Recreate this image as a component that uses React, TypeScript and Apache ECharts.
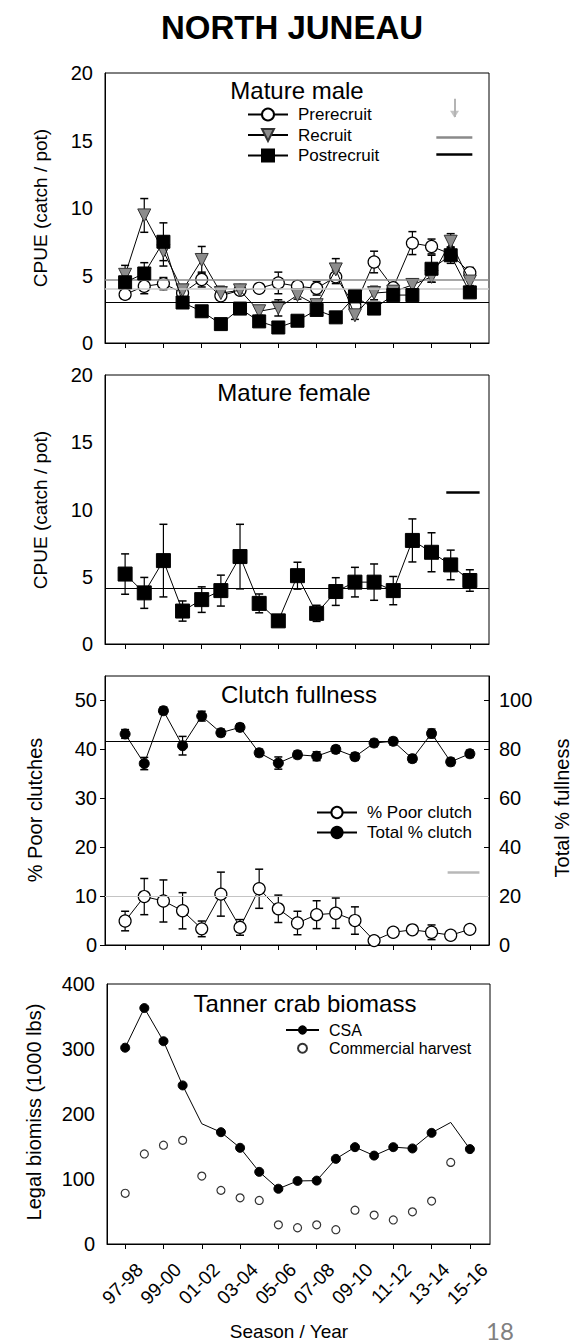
import React, { useEffect, useRef } from "react";
import * as echarts from "echarts";

// Survey seasons (x index 0..18)
const seasons = [
  "97-98", "98-99", "99-00", "00-01", "01-02", "02-03", "03-04", "04-05", "05-06", "06-07",
  "07-08", "08-09", "09-10", "10-11", "11-12", "12-13", "13-14", "14-15", "15-16",
];
const seasonTicks = [0, 2, 4, 6, 8, 10, 12, 14, 16, 18];

// Mature male CPUE (catch / pot) with standard errors
const prerecruit = [3.6, 4.2, 4.4, 3.7, 4.7, 3.5, 3.9, 4.05, 4.45, 4.2, 4.05, 4.9, 2.75, 6.0, 4.1, 7.4, 7.15, 6.6, 5.2];
const prerecruitSE = [0.3, 0.55, 0.45, 0.3, 0.55, 0.3, 0.3, 0.3, 0.8, 0.3, 0.5, 0.5, 0.3, 0.8, 0.3, 0.85, 0.55, 0.5, 0.4];
const recruit = [5.05, 9.45, 6.8, 3.9, 6.15, 3.7, 3.9, 2.35, 2.6, 3.55, 2.8, 5.45, 2.05, 3.7, 3.8, 4.3, 4.9, 7.5, 4.55];
const recruitSE = [0.7, 1.25, 1.1, 0.3, 1.0, 0.5, 0.3, 0.3, 0.6, 0.3, 0.3, 0.8, 0.3, 0.5, 0.3, 0.45, 0.4, 0.6, 0.3];
const postrecruit = [4.5, 5.15, 7.5, 3.0, 2.35, 1.4, 2.55, 1.6, 1.15, 1.65, 2.45, 1.9, 3.45, 2.55, 3.55, 3.55, 5.5, 6.5, 3.75];
const postrecruitSE = [0.9, 0.8, 1.4, 0.3, 0.3, 0.3, 0.3, 0.3, 0.3, 0.3, 0.3, 0.3, 0.4, 0.3, 0.3, 0.3, 1.0, 0.6, 0.3];
// Long-term averages: recruit (gray), prerecruit (light gray), postrecruit (black)
const maleAverages = [4.7, 4.05, 3.0];
const maleKeyLevels = [15.27, 13.96];

// Mature female CPUE with standard errors
const female = [5.2, 3.8, 6.2, 2.45, 3.3, 3.97, 6.5, 3.02, 1.72, 5.08, 2.28, 3.9, 4.6, 4.6, 3.97, 7.7, 6.82, 5.88, 4.72];
const femaleSE = [1.5, 1.15, 2.7, 0.75, 0.95, 1.15, 2.4, 0.7, 0.2, 1.0, 0.6, 1.03, 1.1, 1.35, 1.05, 1.6, 1.45, 1.1, 0.8];
const femaleAverage = 4.15;
const femaleKeyLevel = 11.3;

// Clutch fullness
const poorClutch = [4.9, 9.9, 9.0, 7.0, 3.3, 10.4, 3.6, 11.5, 7.4, 4.5, 6.2, 6.5, 5.0, 0.9, 2.6, 3.1, 2.6, 2.0, 3.2];
const poorClutchSE = [2.0, 3.7, 4.3, 3.7, 1.6, 4.5, 1.6, 4.0, 2.8, 2.4, 2.85, 3.1, 2.8, 0.3, 0.5, 0.6, 1.5, 0.3, 0.8];
const totalClutch = [86.3, 74.2, 95.8, 81.5, 93.6, 86.8, 89.0, 78.6, 74.4, 77.8, 77.2, 80.0, 77.0, 82.6, 83.3, 76.2, 86.5, 74.9, 78.2];
const totalClutchSE = [1.8, 2.5, 1.5, 3.8, 2.0, 1.5, 1.5, 1.5, 2.5, 1.5, 1.8, 1.5, 1.5, 1.5, 1.5, 1.5, 1.8, 1.5, 1.5];
const totalClutchAverage = 83.2;
const poorClutchThreshold = 10;
const poorClutchKeyLevel = 14.8;

// Legal biomass (1000 lbs)
const csa = [302, 363, 312, 244, 185, 172, 148, 111, 85, 97, 97.5, 131, 149, 136, 149, 147, 171, 187, 146];
const csaNoMarker = [4, 17];
const harvest = [78, 138.5, 152, 159.5, 104.5, 82.5, 71, 67, 29.5, 25, 29.5, 22, 52, 44.5, 37, 49.5, 66, 125.5, null];

const FONT = "Liberation Sans";
const INK = "#000";

function errorBars(xi: number, yi: number, vals: (number | null)[], errs: number[], z: number) {
  return {
    type: "custom",
    xAxisIndex: xi,
    yAxisIndex: yi,
    z,
    silent: true,
    data: vals
      .map((v, i) => (v == null ? null : [i, v, errs[i]]))
      .filter((d) => d !== null),
    encode: { x: 0, y: 1 },
    renderItem: (_params: any, api: any) => {
      const x = api.value(0);
      const v = api.value(1);
      const e = api.value(2);
      const top = api.coord([x, v + e]);
      const bot = api.coord([x, Math.max(0, v - e)]);
      const w = 4;
      return {
        type: "group",
        children: [
          { type: "line", shape: { x1: top[0], y1: top[1], x2: bot[0], y2: bot[1] }, style: { stroke: INK, lineWidth: 1.2 } },
          { type: "line", shape: { x1: top[0] - w, y1: top[1], x2: top[0] + w, y2: top[1] }, style: { stroke: INK, lineWidth: 1.5 } },
          { type: "line", shape: { x1: bot[0] - w, y1: bot[1], x2: bot[0] + w, y2: bot[1] }, style: { stroke: INK, lineWidth: 1.5 } },
        ],
      };
    },
  };
}

function seasonAxis(gridIndex: number, min: number, max: number, showLabels: boolean) {
  return {
    type: "value",
    gridIndex,
    min,
    max,
    axisLine: { show: true, onZero: false, lineStyle: { color: INK, width: 1 } },
    axisTick: { show: true, inside: false, length: 5, customValues: seasonTicks, lineStyle: { color: INK } },
    axisLabel: {
      show: showLabels,
      customValues: seasonTicks,
      formatter: (v: number) => seasons[v],
      rotate: 45,
      align: "right",
      verticalAlign: "top",
      padding: [11, 0, 0, 0],
      margin: 8,
      fontSize: 19,
      color: INK,
      fontFamily: FONT,
    },
    splitLine: { show: false },
  };
}

function valueAxis(gridIndex: number, min: number, max: number, interval: number, extra: any = {}) {
  return {
    type: "value",
    gridIndex,
    min,
    max,
    interval,
    axisLine: { show: true, onZero: false, lineStyle: { color: INK, width: 1 } },
    axisTick: { show: false },
    axisLabel: { fontSize: 20, color: INK, fontFamily: FONT, margin: 12 },
    splitLine: { show: false },
    ...extra,
  };
}

const rotatedText = (text: string, x: number, y: number, size: number) => ({
  type: "text",
  x,
  y,
  rotation: Math.PI / 2,
  style: { text, fill: INK, font: `${size}px "${FONT}"`, align: "center", verticalAlign: "middle" },
});

const plainText = (text: string, x: number, y: number, size: number, weight = "normal") => ({
  type: "text",
  x,
  y,
  style: { text, fill: INK, font: `${weight} ${size}px "${FONT}"`, align: "center", verticalAlign: "middle" },
});

const hLine = (y: number, color: string, width = 1.2) => ({
  yAxis: y,
  lineStyle: { color, width, type: "solid" },
});

const segment = (x1: number, x2: number, y: number, color: string, width = 2.5) => [
  { coord: [x1, y], lineStyle: { color, width, type: "solid" } },
  { coord: [x2, y] },
];

export default function App() {
  const ref = useRef<HTMLDivElement>(null);

  useEffect(() => {
    if (!ref.current) return;
    const chart = echarts.init(ref.current, null, { renderer: "svg" });

    const openCircle = { color: "#fff", borderColor: INK, borderWidth: 1.2 };
    const solid = { color: INK, borderColor: INK, borderWidth: 1 };
    const lineStyle = { color: INK, width: 1 };

    const option: any = {
      animation: false,
      backgroundColor: "#fff",
      textStyle: { fontFamily: FONT },
      grid: [
        { left: 105, width: 384, top: 73, height: 270, show: true, borderColor: INK, borderWidth: 1 },
        { left: 105, width: 384, top: 375, height: 269, show: true, borderColor: INK, borderWidth: 1 },
        { left: 105, width: 384, top: 676, height: 269, show: true, borderColor: INK, borderWidth: 1 },
        { left: 107, width: 383, top: 984, height: 260, show: true, borderColor: INK, borderWidth: 1 },
      ],
      xAxis: [
        seasonAxis(0, -1.05, 19, false),
        seasonAxis(1, -1.05, 19, false),
        seasonAxis(2, -1.05, 19, false),
        seasonAxis(3, -0.95, 19.05, true),
      ],
      yAxis: [
        valueAxis(0, 0, 20, 5),
        valueAxis(1, 0, 20, 5),
        valueAxis(2, 0, 55, 10, {
          axisTick: { show: true, length: 5, customValues: [0, 10, 20, 30, 40, 50], lineStyle: { color: INK } },
          axisLabel: { fontSize: 20, color: INK, fontFamily: FONT, margin: 8, customValues: [0, 10, 20, 30, 40, 50] },
        }),
        valueAxis(2, 0, 110, 20, {
          position: "right",
          axisTick: { show: true, inside: true, length: 5, customValues: [0, 20, 40, 60, 80, 100], lineStyle: { color: INK } },
          axisLabel: { fontSize: 20, color: INK, fontFamily: FONT, margin: 10, customValues: [0, 20, 40, 60, 80, 100] },
        }),
        valueAxis(3, 0, 400, 100),
      ],
      legend: [
        {
          data: ["Prerecruit", "Recruit", "Postrecruit"],
          orient: "vertical",
          left: 247,
          top: 106,
          padding: 0,
          itemWidth: 40,
          itemHeight: 15,
          itemGap: 3.5,
          symbolRotate: "inherit",
          textStyle: { fontSize: 17, color: INK, fontFamily: FONT, padding: [0, 0, 0, 5] },
        },
        {
          data: ["% Poor clutch", "Total % clutch"],
          orient: "vertical",
          left: 316,
          top: 804,
          padding: 0,
          itemWidth: 40,
          itemHeight: 14,
          itemGap: 3,
          textStyle: { fontSize: 17, color: INK, fontFamily: FONT, padding: [0, 0, 0, 5] },
        },
        {
          data: ["CSA", "Commercial harvest"],
          orient: "vertical",
          left: 285,
          top: 1022,
          padding: 0,
          itemWidth: 33,
          itemHeight: 9,
          itemGap: 2.3,
          textStyle: { fontSize: 16, color: INK, fontFamily: FONT, padding: [0, 0, 0, 5] },
        },
      ],
      graphic: [
        plainText("NORTH JUNEAU", 292, 27, 33, "bold"),
        plainText("Mature male", 297, 90, 24),
        plainText("Mature female", 294, 392, 24),
        plainText("Clutch fullness", 299, 694, 24),
        plainText("Tanner crab biomass", 305, 1003, 24),
        rotatedText("CPUE (catch / pot)", 40, 208, 19),
        rotatedText("CPUE (catch / pot)", 40, 510, 19),
        rotatedText("% Poor clutches", 35, 810, 20),
        rotatedText("Total % fullness", 562, 808, 20),
        rotatedText("Legal biomiss (1000 lbs)", 34, 1112, 20),
        plainText("Season / Year", 289, 1331, 19),
        {
          type: "text",
          x: 500,
          y: 1342,
          style: { text: "18", fill: "#808080", font: `24px "Lato"`, align: "center", verticalAlign: "bottom" },
        },
      ],
      series: [
        // Mature male
        errorBars(0, 0, prerecruit, prerecruitSE, 1),
        errorBars(0, 0, recruit, recruitSE, 1),
        errorBars(0, 0, postrecruit, postrecruitSE, 1),
        {
          type: "line",
          name: "Prerecruit",
          xAxisIndex: 0,
          yAxisIndex: 0,
          z: 3,
          data: prerecruit.map((v, i) => [i, v]),
          symbol: "circle",
          symbolSize: 12,
          itemStyle: openCircle,
          lineStyle,
          markLine: {
            silent: true,
            symbol: "none",
            label: { show: false },
            data: [
              hLine(maleAverages[0], "#8a8a8a", 1.5),
              hLine(maleAverages[1], "#c8c8c8", 1.5),
              hLine(maleAverages[2], INK, 1.2),
              segment(16.25, 18.13, maleKeyLevels[0], "#8a8a8a"),
              segment(16.25, 18.13, maleKeyLevels[1], INK),
              [
                { coord: [17.2, 18.1], lineStyle: { color: "#b4b4b4", width: 2, type: "solid" } },
                { coord: [17.2, 16.75] },
              ],
            ],
          },
        },
        {
          type: "line",
          name: "Recruit",
          xAxisIndex: 0,
          yAxisIndex: 0,
          z: 4,
          data: recruit.map((v, i) => [i, v]),
          symbol: "triangle",
          symbolRotate: 180,
          symbolSize: 13,
          itemStyle: { color: "#8c8c8c", borderColor: "#333", borderWidth: 1 },
          lineStyle,
        },
        {
          type: "line",
          name: "Postrecruit",
          xAxisIndex: 0,
          yAxisIndex: 0,
          z: 5,
          data: postrecruit.map((v, i) => [i, v]),
          symbol: "rect",
          symbolSize: 13,
          itemStyle: solid,
          lineStyle,
        },
        // Arrow head for the key marker
        {
          type: "scatter",
          xAxisIndex: 0,
          yAxisIndex: 0,
          silent: true,
          z: 2,
          data: [[17.2, 16.95]],
          symbol: "triangle",
          symbolRotate: 180,
          symbolSize: [9, 7],
          itemStyle: { color: "#b4b4b4" },
        },
        // Mature female
        errorBars(1, 1, female, femaleSE, 1),
        {
          type: "line",
          name: "Mature female",
          xAxisIndex: 1,
          yAxisIndex: 1,
          z: 3,
          data: female.map((v, i) => [i, v]),
          symbol: "rect",
          symbolSize: 14,
          itemStyle: solid,
          lineStyle,
          markLine: {
            silent: true,
            symbol: "none",
            label: { show: false },
            data: [hLine(femaleAverage, INK, 1.2), segment(16.77, 18.51, femaleKeyLevel, INK)],
          },
        },
        // Clutch fullness
        errorBars(2, 2, poorClutch, poorClutchSE, 1),
        errorBars(2, 3, totalClutch, totalClutchSE, 1),
        {
          type: "line",
          name: "% Poor clutch",
          xAxisIndex: 2,
          yAxisIndex: 2,
          z: 3,
          data: poorClutch.map((v, i) => [i, v]),
          symbol: "circle",
          symbolSize: 12,
          itemStyle: openCircle,
          lineStyle,
          markLine: {
            silent: true,
            symbol: "none",
            label: { show: false },
            data: [
              hLine(poorClutchThreshold, "#c4c4c4", 1.2),
              segment(16.84, 18.5, poorClutchKeyLevel, "#b8b8b8"),
            ],
          },
        },
        {
          type: "line",
          name: "Total % clutch",
          xAxisIndex: 2,
          yAxisIndex: 3,
          z: 3,
          data: totalClutch.map((v, i) => [i, v]),
          symbol: "circle",
          symbolSize: 10,
          itemStyle: solid,
          lineStyle,
          markLine: {
            silent: true,
            symbol: "none",
            label: { show: false },
            data: [hLine(totalClutchAverage, INK, 1.2)],
          },
        },
        // Biomass
        {
          type: "line",
          name: "CSA",
          xAxisIndex: 3,
          yAxisIndex: 4,
          z: 3,
          data: csa.map((v, i) => ({
            value: [i, v],
            symbolSize: csaNoMarker.includes(i) ? 0 : 9,
          })),
          symbol: "circle",
          symbolSize: 9,
          itemStyle: solid,
          lineStyle,
        },
        {
          type: "scatter",
          name: "Commercial harvest",
          xAxisIndex: 3,
          yAxisIndex: 4,
          z: 3,
          data: harvest.map((v, i) => (v == null ? null : [i, v])).filter((d) => d !== null),
          symbol: "circle",
          symbolSize: 8,
          itemStyle: { color: "#fff", borderColor: INK, borderWidth: 1.2 },
        },
      ],
    };

    chart.setOption(option);
    return () => chart.dispose();
  }, []);

  return (
    <div
      ref={ref}
      style={{ position: "absolute", left: 0, top: 0, width: 578, height: 1343, background: "#fff" }}
    />
  );
}
